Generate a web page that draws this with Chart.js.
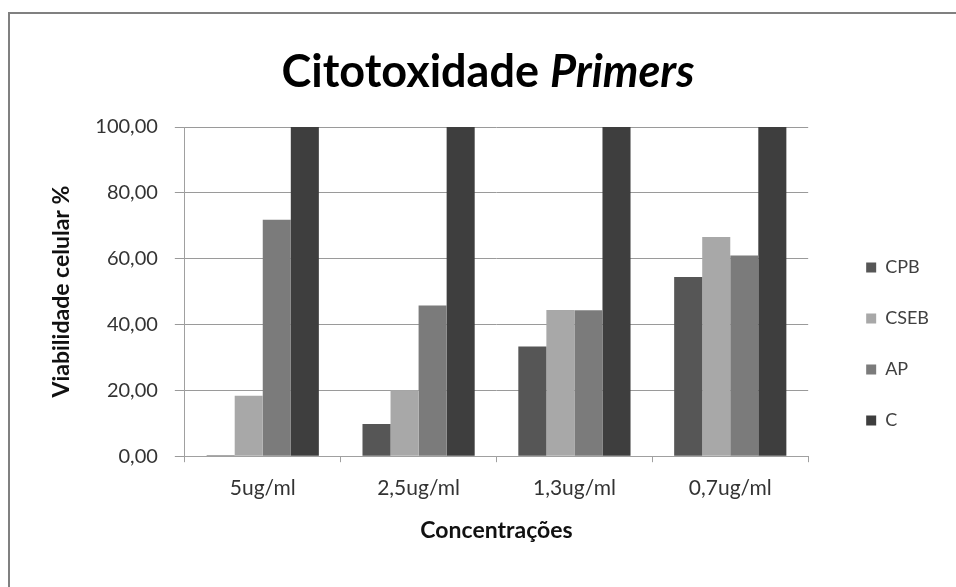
<!DOCTYPE html>
<html>
<head>
<meta charset="utf-8">
<script src="https://cdn.jsdelivr.net/npm/chart.js@4"></script>
<style>
  body { margin: 0; background: #fff; }
  #wrap { width: 956px; height: 587px; }
</style>
</head>
<body>
<div id="wrap"><canvas id="c" width="956" height="587"></canvas></div>
<script>
// chart data
const categories = ['5ug/ml', '2,5ug/ml', '1,3ug/ml', '0,7ug/ml'];
const seriesNames = ['CPB', 'CSEB', 'AP', 'C'];
const cpb = [0.3, 9.8, 33.3, 54.4];
const cseb = [18.4, 20.0, 44.4, 66.6];
const ap = [71.8, 45.8, 44.3, 61.0];
const ctrl = [100, 100, 100, 100];
const seriesColors = ['#565656', '#a8a8a8', '#7b7b7b', '#3e3e3e'];
const yTicks = [0, 20, 40, 60, 80, 100];

const FONT = 'Lato, "Open Sans", sans-serif';

// frame + mixed style title (bold + bold italic)
const decor = {
  id: 'decor',
  beforeDraw(chart) {
    const ctx = chart.ctx;
    ctx.save();
    ctx.fillStyle = '#fff';
    ctx.fillRect(0, 0, chart.width, chart.height);
    ctx.strokeStyle = '#808080';
    ctx.lineWidth = 2;
    ctx.strokeRect(9, 13, 1100, 1100);
    ctx.restore();
  },
  afterDraw(chart) {
    const ctx = chart.ctx;
    ctx.save();
    const a = 'Citotoxidade ', b = 'Primers';
    ctx.textBaseline = 'alphabetic';
    ctx.fillStyle = '#000';
    ctx.font = 'bold 45px ' + FONT;
    const wa = ctx.measureText(a).width;
    ctx.font = 'italic bold 45px ' + FONT;
    const wb = ctx.measureText(b).width;
    let x = 488 - (wa + wb) / 2;
    ctx.font = 'bold 45px ' + FONT;
    ctx.fillText(a, x, 87);
    ctx.font = 'italic bold 45px ' + FONT;
    ctx.fillText(b, x + wa, 87);
    ctx.restore();
  }
};

const fmt = v => v.toFixed(2).replace('.', ',');

new Chart(document.getElementById('c'), {
  type: 'bar',
  data: {
    labels: categories,
    datasets: [cpb, cseb, ap, ctrl].map((d, i) => ({
      label: seriesNames[i],
      data: d,
      backgroundColor: seriesColors[i],
      borderWidth: 0,
      barPercentage: 1,
      categoryPercentage: 0.72
    }))
  },
  options: {
    responsive: false,
    animation: false,
    layout: { padding: { top: 127, bottom: 26, left: 34, right: 17 } },
    plugins: {
      title: { display: false },
      tooltip: { enabled: false },
      legend: {
        position: 'right',
        labels: {
          boxWidth: 10, boxHeight: 10, padding: 33,
          color: '#404040',
          font: { family: FONT, size: 18 }
        }
      }
    },
    scales: {
      x: {
        grid: { display: true, drawOnChartArea: false, color: '#a0a0a0', tickLength: 6 },
        border: { color: '#a0a0a0' },
        ticks: { color: '#333', font: { family: FONT, size: 21 }, padding: 13 },
        title: {
          display: true, text: 'Concentrações', color: '#111',
          font: { family: FONT, size: 23, weight: 'bold' },
          padding: { top: 3, bottom: 17 }
        }
      },
      y: {
        min: 0, max: 100,
        afterBuildTicks: axis => { axis.ticks = yTicks.map(v => ({ value: v })); },
        grid: { color: '#9a9a9a', tickLength: 10 },
        border: { color: '#a0a0a0' },
        ticks: { color: '#333', font: { family: FONT, size: 20 }, padding: 17, callback: v => fmt(v) },
        title: {
          display: true, text: 'Viabilidade celular %', color: '#111',
          font: { family: FONT, size: 23, weight: 'bold' },
          padding: { top: 14, bottom: 9 }
        }
      },
      // empty spacer between plot and legend
      gap: {
        position: 'right', display: true,
        grid: { display: false }, border: { display: false },
        ticks: { display: false },
        afterFit: s => { s.width = 25; }
      }
    }
  },
  plugins: [decor]
});
</script>
</body>
</html>
